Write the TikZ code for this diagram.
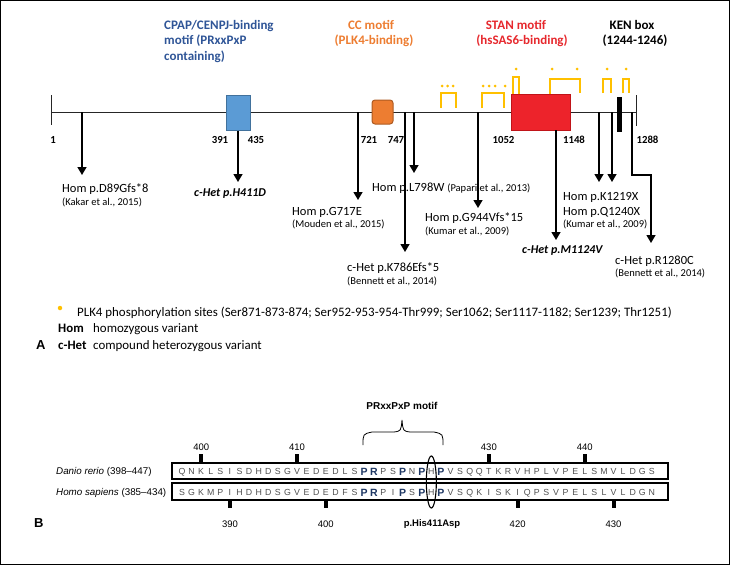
\documentclass[tikz,border=0pt]{standalone}
\usepackage{fontspec}
\setmainfont{Carlito}
\newfontfamily\arialf{Liberation Sans}
\usetikzlibrary{arrows.meta,calc,shapes.geometric}
\definecolor{cpapblue}{RGB}{47,85,151}
\definecolor{boxblue}{RGB}{91,155,213}
\definecolor{boxblueb}{RGB}{65,113,156}
\definecolor{ccorange}{RGB}{237,125,49}
\definecolor{ccorangeb}{RGB}{174,90,33}
\definecolor{stanred}{RGB}{230,40,45}
\definecolor{boxred}{RGB}{237,35,43}
\definecolor{boxredb}{RGB}{192,20,25}
\definecolor{phosyellow}{RGB}{255,192,0}
\definecolor{navyP}{RGB}{31,56,100}
\definecolor{seqgrey}{RGB}{80,80,80}
\tikzset{
  protline/.style={line width=1pt, draw=black!85},
  mut/.style={line width=1.4pt, -{Triangle[width=9pt,length=8pt]}},
  lbl/.style={anchor=base west, inner sep=0, font=\fontsize{12.5}{14}\selectfont},
  refl/.style={anchor=base west, inner sep=0, font=\fontsize{10.5}{12}\selectfont},
  het/.style={anchor=base west, inner sep=0, font=\fontsize{12}{14}\selectfont\bfseries\itshape},
  posl/.style={anchor=base, inner sep=0, font=\fontsize{10.8}{12}\selectfont\bfseries},
  ttl/.style={anchor=base, inner sep=0, font=\fontsize{13}{15}\selectfont\bfseries},
  phos/.style={line width=2pt, draw=phosyellow},
  pstar/.style={circle, fill=phosyellow, inner sep=0, minimum size=3pt},
  dombox/.style={draw, line width=1pt, inner sep=0},
  legl/.style={anchor=base west, inner sep=0, font=\fontsize{12.9}{14}\selectfont},
  seql/.style={anchor=base, inner sep=0, text=seqgrey, font=\arialf\fontsize{8.8}{10}\selectfont},
  seqb/.style={anchor=base, inner sep=0, text=navyP, font=\arialf\bfseries\fontsize{10.5}{11}\selectfont},
  numl/.style={anchor=base, inner sep=0, font=\arialf\fontsize{9.5}{11}\selectfont},
  rowbox/.style={draw, line width=1.6pt, inner sep=0},
  tickm/.style={fill=black, inner sep=0, minimum width=4pt, minimum height=9pt},
  panel/.style={anchor=base west, inner sep=0, font=\arialf\bfseries\fontsize{13}{15}\selectfont}
}
\begin{document}
\begin{tikzpicture}[x=1pt,y=-1pt]
\useasboundingbox (0,0) rectangle (730,565);
\draw[line width=1pt] (0.5,0.5) rectangle (729.5,564.5);

% ---------- titles ----------
\node[ttl, anchor=base west, text=cpapblue] (t1a) at (164,29) {CPAP/CENPJ-binding};
\node[ttl, anchor=base west, text=cpapblue] (t1b) at (164,44.5) {motif (PRxxPxP};
\node[ttl, anchor=base west, text=cpapblue] (t1c) at (164,60) {containing)};
\node[ttl, text=ccorange] (t2a) at (371,29) {CC motif};
\node[ttl, text=ccorange] (t2b) at (374,44.5) {(PLK4-binding)};
\node[ttl, text=stanred] (t3a) at (516,29) {STAN motif};
\node[ttl, text=stanred] (t3b) at (522,44.5) {(hsSAS6-binding)};
\node[ttl] (t4a) at (632,29) {KEN box};
\node[ttl] (t4b) at (635,44.5) {(1244-1246)};

% ---------- protein ----------
\coordinate (L0) at (51,112);
\coordinate (L1) at (636,112);
\draw[protline] (L0) -- (L1);
\draw[protline] (51,95) -- (51,125);
\draw[protline, line width=0.8pt] (636,95) -- (636,126);

\node[dombox, draw=boxblueb, fill=boxblue, minimum width=24pt, minimum height=35pt] (cpap) at (238,112.5) {};
\node[dombox, draw=ccorangeb, fill=ccorange, rounded corners=3pt, minimum width=21pt, minimum height=24pt] (cc) at (382.5,112) {};
\node[dombox, draw=boxredb, fill=boxred, minimum width=59pt, minimum height=36pt] (stan) at (540.5,112) {};
\node[fill=black, inner sep=0, minimum width=5pt, minimum height=35pt] (ken) at (619.5,114.5) {};

% position numbers
\node[posl] (p1) at (53,143) {1};
\node[posl] (p391) at (220,143) {391};
\node[posl] (p435) at (256,143) {435};
\node[posl] (p721) at (369,143) {721};
\node[posl] (p747) at (396,143) {747};
\node[posl] (p1052) at (503.5,143) {1052};
\node[posl] (p1148) at (574,143) {1148};
\node[posl] (p1288) at (647.5,143) {1288};

% phosphorylation brackets
\draw[phos] (441,108) -- (441,93) -- (456,93) -- (456,108);
\draw[phos] (482,108) -- (482,93) -- (504,93) -- (504,108);
\draw[phos] (513,94) -- (513,77) -- (519,77) -- (519,94);
\draw[phos] (550,94) -- (550,79) -- (580,79) -- (580,93);
\draw[phos] (603,93) -- (603,79) -- (611,79) -- (611,93);
\draw[phos] (623,93) -- (623,79) -- (629,79) -- (629,93);
\foreach \sx/\sy [count=\k] in {442/86,447.5/86,453/86,483/86,489/86,495/86,505/86,516/69,552/69,577/69,607/69,626/69}
  \node[pstar] (s\k) at (\sx,\sy) {};

% ---------- mutations ----------
\coordinate (m1s) at (82,112);   \coordinate (m1e) at (82,175);
\coordinate (m2e) at (238,182);
\coordinate (m3s) at (358,112);  \coordinate (m3e) at (358,200);
\coordinate (m4s) at (405,112);  \coordinate (m4e) at (405,252);
\coordinate (m5s) at (414,112);  \coordinate (m5e) at (414,173);
\coordinate (m6s) at (478,112);  \coordinate (m6e) at (478,208);
\coordinate (m7s) at (556,130);  \coordinate (m7e) at (556,240);
\coordinate (m8s) at (599,112);  \coordinate (m8e) at (599,182);
\coordinate (m9s) at (612,112);  \coordinate (m9e) at (612,182);
\coordinate (m10s) at (632,112); \coordinate (m10k) at (651,175); \coordinate (m10e) at (651,243);

\draw[mut] (m1s) -- (m1e);
\draw[mut] (cpap.south) -- (m2e);
\draw[mut] (m3s) -- (m3e);
\draw[mut] (m4s) -- (m4e);
\draw[mut] (m5s) -- (m5e);
\draw[mut] (m6s) -- (m6e);
\draw[mut] (m7s) -- (m7e);
\draw[mut] (m8s) -- (m8e);
\draw[mut] (m9s) -- (m9e);
\draw[mut] (m10s) |- (m10k) -- (m10e);

\node[lbl] (l1) at (62,192.5) {Hom p.D89Gfs*8};
\node[refl] (r1) at (62,205.5) {(Kakar et al., 2015)};
\node[het] (l2) at (194,196.5) {c-Het p.H411D};
\node[lbl] (l3) at (292,215) {Hom p.G717E};
\node[refl] (r3) at (292,227.5) {(Mouden et al., 2015)};
\node[lbl] (l4) at (347,271.5) {c-Het p.K786Efs*5};
\node[refl] (r4) at (347,284) {(Bennett et al., 2014)};
\node[lbl] (l5) at (372,191.5) {Hom p.L798W {\fontsize{10.5}{12}\selectfont(Papari et al., 2013)}};
\node[lbl] (l6) at (425,221.5) {Hom p.G944Vfs*15};
\node[refl] (r6) at (425,234.5) {(Kumar et al., 2009)};
\node[het] (l7) at (522,253) {c-Het p.M1124V};
\node[lbl] (l8) at (563,200) {Hom p.K1219X};
\node[lbl] (l9) at (563,215) {Hom p.Q1240X};
\node[refl] (r9) at (563,227) {(Kumar et al., 2009)};
\node[lbl] (l10) at (615,264) {c-Het p.R1280C};
\node[refl] (r10) at (615,276.5) {(Bennett et al., 2014)};

% ---------- legend ----------
\node[pstar, minimum size=4.5pt] (legstar) at (60,308) {};
\node[legl] (leg1) at (77,316) {PLK4 phosphorylation sites (Ser871-873-874; Ser952-953-954-Thr999; Ser1062; Ser1117-1182; Ser1239; Thr1251)};
\node[legl, font=\fontsize{12.9}{14}\selectfont\bfseries] (leg2a) at (58,332) {Hom};
\node[legl] (leg2b) at (93,332) {homozygous variant};
\node[legl, font=\fontsize{12.9}{14}\selectfont\bfseries] (leg3a) at (58,349) {c-Het};
\node[legl] (leg3b) at (93,349) {compound heterozygous variant};
\node[panel] (pA) at (36,349) {A};

% ---------- panel B ----------
\node[panel] (pB) at (34,527) {B};
\node[anchor=base, inner sep=0, font=\arialf\bfseries\fontsize{10}{12}\selectfont] (motif) at (402,409) {PRxxPxP motif};
\draw[line width=0.8pt] (363,445) .. controls (363,434) .. (372,432) -- (394,432) .. controls (401,431) .. (402,420)
   .. controls (403,431) .. (410,432) -- (434,432) .. controls (443,434) .. (443,445);

\node[rowbox, minimum width=496pt, minimum height=16pt] (danio) at (420,471) {};
\node[rowbox, minimum width=496pt, minimum height=17pt] (homo) at (420,491.5) {};

\node[anchor=base west, inner sep=0, font=\arialf\fontsize{9.8}{12}\selectfont] (dl) at (56,474) {\textit{Danio rerio} (398–447)};
\node[anchor=base west, inner sep=0, font=\arialf\fontsize{9.8}{12}\selectfont] (hl) at (56,495) {\textit{Homo sapiens} (385–434)};

\foreach \c [count=\i from 0] in {Q,N,K,L,S,I,S,D,H,D,S,G,V,E,D,E,D,L,S,{},{},P,S,{},N,{},H,{},V,S,Q,Q,T,K,R,V,H,P,L,V,P,E,L,S,M,V,L,D,G,S}
  \node[seql] (d\i) at ({182+\i*9.59},474.5) {\c};
\foreach \c [count=\i from 0] in {S,G,K,M,P,I,H,D,H,D,S,G,V,E,D,E,D,F,S,{},{},P,I,{},S,{},H,{},V,S,Q,K,I,S,K,I,Q,P,S,V,P,E,L,S,L,V,L,D,G,N}
  \node[seql] (h\i) at ({182+\i*9.59},495) {\c};
\foreach \i/\c in {19/P,20/R,23/P,25/P,27/P}{
  \node[seqb] (db\i) at ({182+\i*9.59},475.5) {\c};
  \node[seqb] (hb\i) at ({182+\i*9.59},496) {\c};
}

% ticks
\foreach \i/\n in {2/400,12/410,32/430,42/440}{
  \node[tickm] (dt\n) at ({182+\i*9.59},458) {};
  \node[numl] (dn\n) at ({182+\i*9.59},450.5) {\n};
}
\foreach \i/\n in {5/390,15/400,35/420,45/430}{
  \node[tickm, minimum height=8pt] (ht\n) at ({182+\i*9.59},504) {};
  \node[numl] (hn\n) at ({182+\i*9.59},527) {\n};
}

\node[draw, ellipse, line width=1.1pt, minimum width=10pt, minimum height=52pt, inner sep=0] (hisell) at ({182+26*9.59},482) {};
\node[anchor=base, inner sep=0, font=\arialf\bfseries\fontsize{9.5}{11}\selectfont] (his) at (432,526) {p.His411Asp};
\end{tikzpicture}
\end{document}
